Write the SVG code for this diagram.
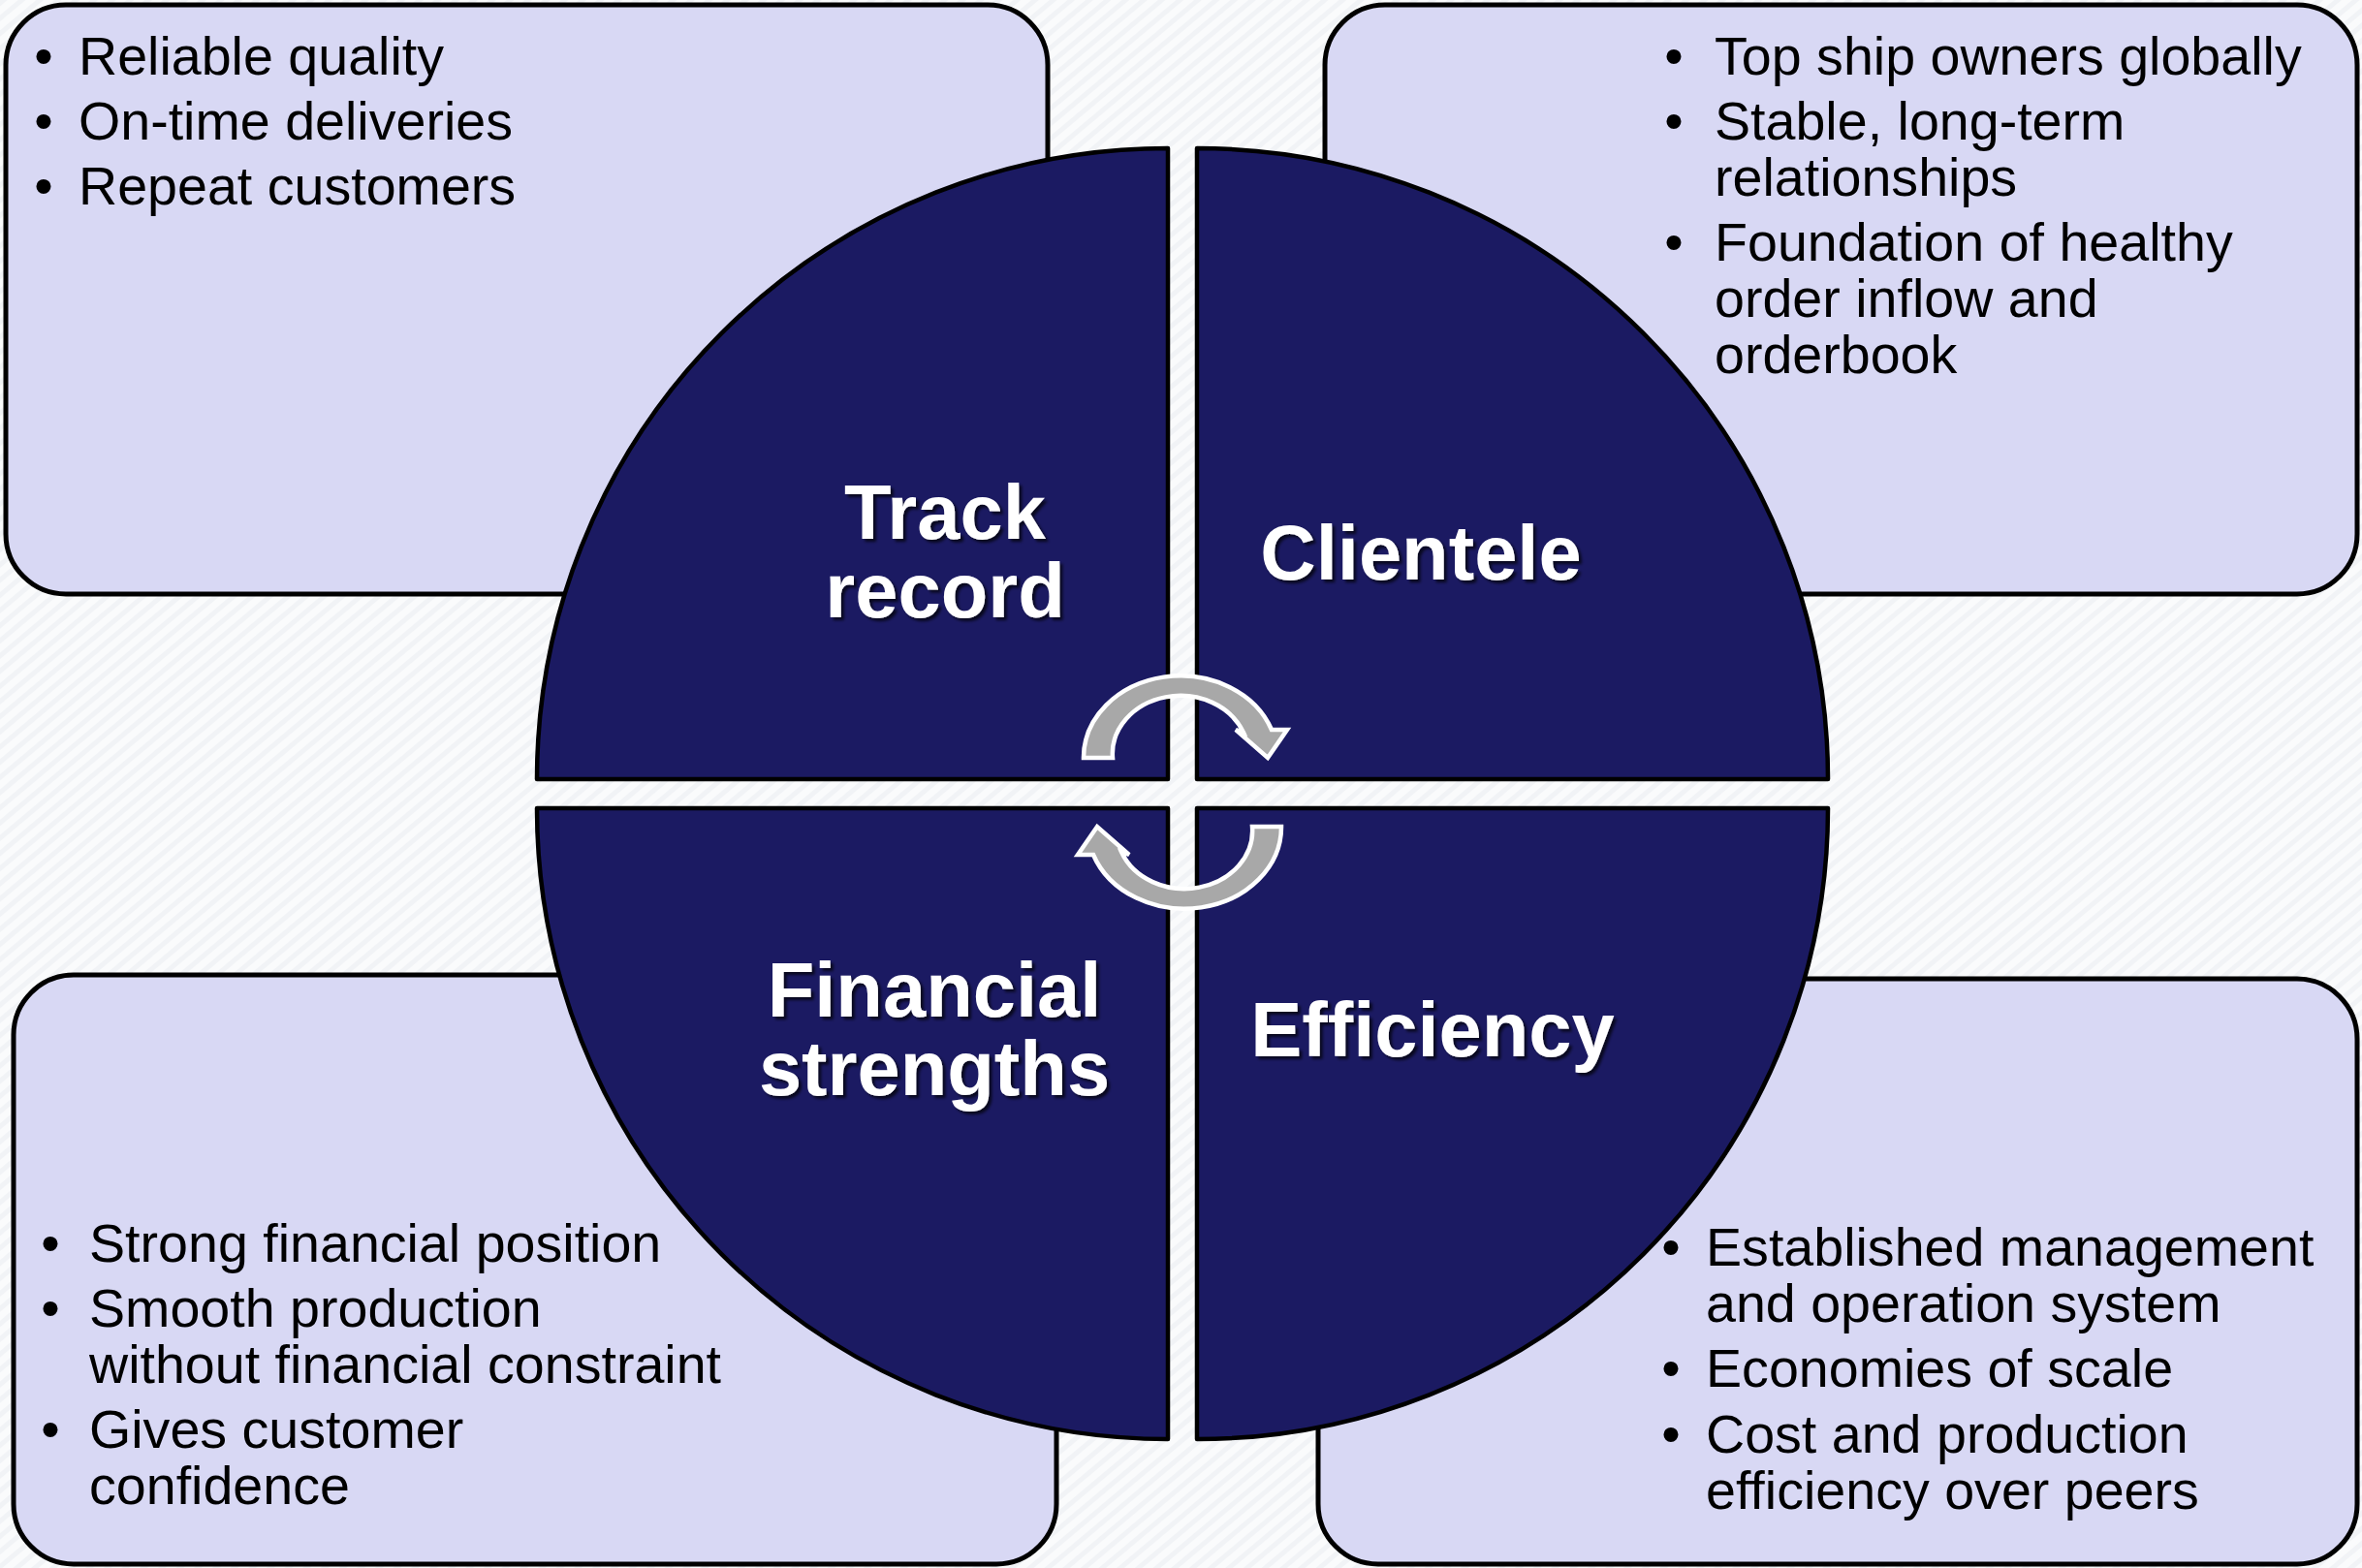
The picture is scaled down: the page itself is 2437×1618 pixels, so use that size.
<svg xmlns="http://www.w3.org/2000/svg" width="2437" height="1618" viewBox="0 0 2437 1618">
  <defs>
    <pattern id="hatch" width="12" height="12" patternUnits="userSpaceOnUse" patternTransform="rotate(50)">
      <rect width="12" height="12" fill="#fafbfc"/>
      <rect width="5" height="12" fill="#f1f3f6"/>
    </pattern>
    <filter id="shadow" x="-10%" y="-20%" width="130%" height="150%">
      <feDropShadow dx="3" dy="3" stdDeviation="1.6" flood-color="#000" flood-opacity="0.7"/>
    </filter>
    <style>
      .box { fill: #d8d8f4; stroke: #000; stroke-width: 5; }
      .quad { fill: #1b1a62; stroke: #000; stroke-width: 4.5; stroke-linejoin: round; }
      .bul { font-family: "Liberation Sans", Arial, sans-serif; font-size: 55.6px; fill: #000; }
      .lbl { font-family: "Liberation Sans", Arial, sans-serif; font-size: 79.5px; font-weight: bold; fill: #fff; text-anchor: middle; filter: url(#shadow); }
      .arrow { fill: #a8a8a8; stroke: #fff; stroke-width: 4.5; stroke-linejoin: miter; }
    </style>
  </defs>

  <!-- hatched backdrop -->
  <rect x="0" y="0" width="2437" height="1618" fill="url(#hatch)"/>

  <!-- detail boxes -->
  <g id="box-track-record">
    <rect class="box" x="6" y="5" width="1075" height="608" rx="62" ry="62"/>
    <text class="bul">
      <tspan x="45" y="77" text-anchor="middle">•</tspan><tspan x="81" y="77">Reliable quality</tspan>
      <tspan x="45" y="144" text-anchor="middle">•</tspan><tspan x="81" y="144">On-time deliveries</tspan>
      <tspan x="45" y="211" text-anchor="middle">•</tspan><tspan x="81" y="211">Repeat customers</tspan>
    </text>
  </g>

  <g id="box-clientele">
    <rect class="box" x="1367" y="5" width="1065" height="608" rx="62" ry="62"/>
    <text class="bul">
      <tspan x="1727" y="77" text-anchor="middle">•</tspan><tspan x="1769" y="77">Top ship owners globally</tspan>
      <tspan x="1727" y="144" text-anchor="middle">•</tspan><tspan x="1769" y="144">Stable, long-term</tspan>
      <tspan x="1769" y="202">relationships</tspan>
      <tspan x="1727" y="269" text-anchor="middle">•</tspan><tspan x="1769" y="269">Foundation of healthy</tspan>
      <tspan x="1769" y="327">order inflow and</tspan>
      <tspan x="1769" y="385">orderbook</tspan>
    </text>
  </g>

  <g id="box-financial-strengths">
    <rect class="box" x="14" y="1006" width="1076" height="608" rx="62" ry="62"/>
    <text class="bul">
      <tspan x="52" y="1302" text-anchor="middle">•</tspan><tspan x="92" y="1302">Strong financial position</tspan>
      <tspan x="52" y="1369" text-anchor="middle">•</tspan><tspan x="92" y="1369">Smooth production</tspan>
      <tspan x="92" y="1427">without financial constraint</tspan>
      <tspan x="52" y="1494" text-anchor="middle">•</tspan><tspan x="92" y="1494">Gives customer</tspan>
      <tspan x="92" y="1552">confidence</tspan>
    </text>
  </g>

  <g id="box-efficiency">
    <rect class="box" x="1360" y="1010" width="1072" height="604" rx="62" ry="62"/>
    <text class="bul">
      <tspan x="1724" y="1306" text-anchor="middle">•</tspan><tspan x="1760" y="1306">Established management</tspan>
      <tspan x="1760" y="1364">and operation system</tspan>
      <tspan x="1724" y="1431" text-anchor="middle">•</tspan><tspan x="1760" y="1431">Economies of scale</tspan>
      <tspan x="1724" y="1499" text-anchor="middle">•</tspan><tspan x="1760" y="1499">Cost and production</tspan>
      <tspan x="1760" y="1557">efficiency over peers</tspan>
    </text>
  </g>

  <!-- four quarter-circle segments -->
  <g id="quad-track-record">
    <path class="quad" d="M1205,804 L554,804 A651,651 0 0 1 1205,153 Z"/>
    <text class="lbl"><tspan x="975" y="556">Track</tspan><tspan x="975" y="637">record</tspan></text>
  </g>
  <g id="quad-clientele">
    <path class="quad" d="M1235,804 L1235,153 A651,651 0 0 1 1886,804 Z"/>
    <text class="lbl" x="1466" y="598">Clientele</text>
  </g>
  <g id="quad-efficiency">
    <path class="quad" d="M1235,834 L1886,834 A651,651 0 0 1 1235,1485 Z"/>
    <text class="lbl" x="1478" y="1090">Efficiency</text>
  </g>
  <g id="quad-financial-strengths">
    <path class="quad" d="M1205,834 L1205,1485 A651,651 0 0 1 554,834 Z"/>
    <text class="lbl"><tspan x="964" y="1049">Financial</tspan><tspan x="964" y="1130">strengths</tspan></text>
  </g>

  <!-- cycle arrows -->
  <g id="connectors">
    <path id="arrow-top" class="arrow" d="M1118,782 A100,84.5 0 0 1 1312,753 L1328,753 L1308,782 L1275,753 L1283,756 A70,60 0 0 0 1148,782 Z"/>
    <path id="arrow-bottom" class="arrow" transform="rotate(180 1220 817.5)" d="M1118,782 A100,84.5 0 0 1 1312,753 L1328,753 L1308,782 L1275,753 L1283,756 A70,60 0 0 0 1148,782 Z"/>
  </g>
</svg>
